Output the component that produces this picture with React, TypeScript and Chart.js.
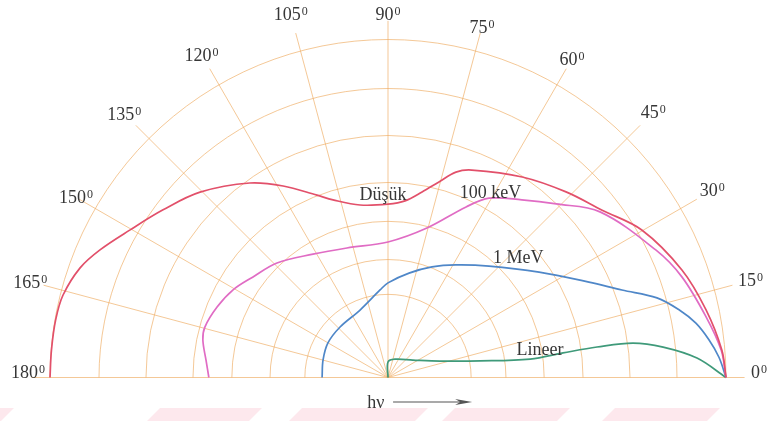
import React, { useEffect, useRef } from "react";
import { Chart, registerables } from "chart.js";

Chart.register(...registerables);

const W = 779;
const H = 421;
// polar origin on the canvas and pixel length of one radial unit
const ORIGIN_X = 388;
const ORIGIN_Y = 377.5;
const UNIT = 338;

// angular grid (degrees) and concentric rings (relative radius)
const ANGLE_TICKS = [0, 15, 30, 45, 60, 75, 90, 105, 120, 135, 150, 165, 180];
const RING_RADII = [0.246, 0.349, 0.462, 0.577, 0.716, 0.855, 1.0];

// "Düşük" energy curve
const DUSUK_ANGLE = [0, 4.7, 12.0, 20.1, 30.1, 38.0, 46.2, 56.2, 68.0, 71.7, 75.4, 79.6, 84.5, 90, 99.2, 107.2, 111.3, 118.7, 125.4, 135.4, 143.3, 150.2, 156.1, 160.4, 165.8, 170.2, 175.3, 180];
const DUSUK_R = [1.0, 0.991, 0.962, 0.926, 0.869, 0.804, 0.761, 0.714, 0.662, 0.64, 0.598, 0.558, 0.525, 0.513, 0.517, 0.55, 0.579, 0.646, 0.706, 0.781, 0.83, 0.879, 0.932, 0.967, 0.992, 0.998, 0.999, 1.0];

// 100 keV curve
const KEV100_ANGLE = [0, 4.7, 10.8, 18.9, 25.4, 38.0, 45.9, 53.0, 60.6, 65.4, 75.4, 90, 107.6, 121.3, 134.1, 143.3, 150.6, 157.6, 164.6, 168.5, 174.5, 180];
const KEV100_R = [1.0, 0.989, 0.958, 0.919, 0.878, 0.796, 0.715, 0.658, 0.609, 0.555, 0.457, 0.401, 0.402, 0.427, 0.472, 0.498, 0.527, 0.547, 0.562, 0.559, 0.541, 0.53];

// 1 MeV curve
const MEV1_ANGLE = [0, 3.5, 6.7, 10.0, 13.1, 16.5, 20.5, 25.4, 34.9, 47.8, 58.9, 68.3, 78.6, 90, 95.2, 112.5, 133.5, 150.1, 164.9, 180];
const MEV1_R = [1.0, 0.981, 0.956, 0.925, 0.884, 0.83, 0.739, 0.658, 0.545, 0.445, 0.389, 0.352, 0.315, 0.28, 0.26, 0.216, 0.206, 0.205, 0.199, 0.195];

// "Lineer" curve
const LINEER_ANGLE = [0, 3.6, 6.3, 8.0, 8.3, 8.0, 7.4, 10.2, 17.6, 35, 69.3, 90, 90];
const LINEER_R = [1.0, 0.916, 0.819, 0.732, 0.625, 0.523, 0.424, 0.277, 0.161, 0.09, 0.058, 0.046, 0.0];

const CURVE_LABELS = ["Düşük", "100 keV", "1 MeV", "Lineer"];
const BEAM_LABEL = "hν";

const GRID_COLOR = "rgba(238, 170, 95, 0.65)";
const TEXT_COLOR = "#363636";
const SERIF = '"Liberation Serif", "Times New Roman", serif';

const toXY = (angles: number[], radii: number[]) =>
  angles.map((a, i) => ({
    x: radii[i] * Math.cos((a * Math.PI) / 180),
    y: radii[i] * Math.sin((a * Math.PI) / 180),
  }));

// radial distance of each angle label centre, in ring units
const LABEL_RADII = [1.098, 1.11, 1.108, 1.11, 1.089, 1.075, 1.075, 1.113, 1.103, 1.104, 1.066, 1.096, 1.065];
const SPOKE_LENGTH = 1.055;

const polarDecor = {
  id: "polarDecor",
  beforeDraw(chart: any) {
    const { ctx } = chart;
    // faint stamped stripe along the bottom edge
    ctx.save();
    ctx.fillStyle = "rgba(250, 205, 214, 0.45)";
    const top = 408;
    const bottom = H;
    const slant = bottom - top;
    const pieces = [
      [-30, 14],
      [160, 262],
      [302, 428],
      [455, 570],
      [615, 720],
    ];
    pieces.forEach(([a, b]) => {
      ctx.beginPath();
      ctx.moveTo(a, top);
      ctx.lineTo(b, top);
      ctx.lineTo(b - slant, bottom);
      ctx.lineTo(a - slant, bottom);
      ctx.closePath();
      ctx.fill();
    });
    ctx.restore();
  },
  beforeDatasetsDraw(chart: any) {
    const { ctx } = chart;
    const xs = chart.scales.x;
    const ys = chart.scales.y;
    const cx = xs.getPixelForValue(0);
    const cy = ys.getPixelForValue(0);
    const unit = xs.getPixelForValue(1) - cx;
    ctx.save();
    ctx.strokeStyle = GRID_COLOR;
    ctx.lineWidth = 1;
    RING_RADII.forEach((r) => {
      ctx.beginPath();
      ctx.arc(cx, cy, r * unit, Math.PI, 2 * Math.PI);
      ctx.stroke();
    });
    ANGLE_TICKS.forEach((a) => {
      const t = (a * Math.PI) / 180;
      ctx.beginPath();
      ctx.moveTo(cx, cy);
      ctx.lineTo(cx + Math.cos(t) * SPOKE_LENGTH * unit, cy - Math.sin(t) * SPOKE_LENGTH * unit);
      ctx.stroke();
    });
    ctx.restore();
  },
  afterDatasetsDraw(chart: any) {
    const { ctx } = chart;
    const xs = chart.scales.x;
    const ys = chart.scales.y;
    const px = (v: number) => xs.getPixelForValue(v);
    const py = (v: number) => ys.getPixelForValue(v);
    const cx = px(0);
    const cy = py(0);
    const unit = px(1) - cx;
    ctx.save();
    ctx.fillStyle = TEXT_COLOR;
    ctx.textBaseline = "alphabetic";
    ctx.textAlign = "left";

    // angle labels with a raised "0" as the degree mark
    ANGLE_TICKS.forEach((a, i) => {
      const t = (a * Math.PI) / 180;
      const lx = cx + Math.cos(t) * LABEL_RADII[i] * unit;
      let ly = cy - Math.sin(t) * LABEL_RADII[i] * unit;
      if (a === 0 || a === 180) ly -= 6;
      const main = String(a);
      ctx.font = `18px ${SERIF}`;
      const w1 = ctx.measureText(main).width;
      ctx.font = `12px ${SERIF}`;
      const w2 = ctx.measureText("0").width;
      const left = lx - (w1 + 1 + w2) / 2;
      const base = ly + 6;
      ctx.font = `18px ${SERIF}`;
      ctx.fillText(main, left, base);
      ctx.font = `12px ${SERIF}`;
      ctx.fillText("0", left + w1 + 1, base - 5);
    });

    // curve names
    ctx.font = `18px ${SERIF}`;
    ctx.textAlign = "center";
    const labelAt = [
      [-0.015, 0.525],
      [0.303, 0.531],
      [0.385, 0.339],
      [0.45, 0.067],
    ];
    CURVE_LABELS.forEach((txt, i) => {
      ctx.fillText(txt, px(labelAt[i][0]), py(labelAt[i][1]));
    });

    // incoming photon direction
    ctx.fillText(BEAM_LABEL, px(-0.036), py(-0.09));
    const ax0 = px(0.015);
    const ax1 = px(0.249);
    const ay = py(-0.0725);
    ctx.strokeStyle = "#555";
    ctx.lineWidth = 1.2;
    ctx.beginPath();
    ctx.moveTo(ax0, ay);
    ctx.lineTo(ax1 - 6, ay);
    ctx.stroke();
    ctx.fillStyle = "#555";
    ctx.beginPath();
    ctx.moveTo(ax1, ay);
    ctx.lineTo(ax1 - 17, ay - 3);
    ctx.lineTo(ax1 - 12, ay);
    ctx.lineTo(ax1 - 17, ay + 3);
    ctx.closePath();
    ctx.fill();
    ctx.restore();
  },
};

export default function App() {
  const canvasRef = useRef<HTMLCanvasElement | null>(null);

  useEffect(() => {
    if (!canvasRef.current) return;
    const line = (label: string, data: any[], color: string) => ({
      label,
      data,
      showLine: true,
      borderColor: color,
      backgroundColor: color,
      borderWidth: 1.7,
      pointRadius: 0,
      pointHoverRadius: 0,
      tension: 0.35,
      fill: false,
    });
    const chart = new Chart(canvasRef.current, {
      type: "scatter",
      data: {
        datasets: [
          line(CURVE_LABELS[0], toXY(DUSUK_ANGLE, DUSUK_R), "#e2506a"),
          line(CURVE_LABELS[1], toXY(KEV100_ANGLE, KEV100_R), "#e06cc4"),
          line(CURVE_LABELS[2], toXY(MEV1_ANGLE, MEV1_R), "#4f87c8"),
          line(CURVE_LABELS[3], toXY(LINEER_ANGLE, LINEER_R), "#3f9a7a"),
        ],
      },
      options: {
        responsive: false,
        animation: false,
        layout: { padding: 0 },
        plugins: {
          legend: { display: false },
          tooltip: { enabled: false },
        },
        events: [],
        scales: {
          x: {
            type: "linear",
            display: false,
            min: -ORIGIN_X / UNIT,
            max: (W - ORIGIN_X) / UNIT,
          },
          y: {
            type: "linear",
            display: false,
            min: -(H - ORIGIN_Y) / UNIT,
            max: ORIGIN_Y / UNIT,
          },
        },
      },
      plugins: [polarDecor],
    });
    return () => chart.destroy();
  }, []);

  return (
    <div style={{ position: "fixed", left: 0, top: 0, width: W, height: H, background: "#fff" }}>
      <canvas ref={canvasRef} width={W} height={H} style={{ display: "block" }} />
    </div>
  );
}
